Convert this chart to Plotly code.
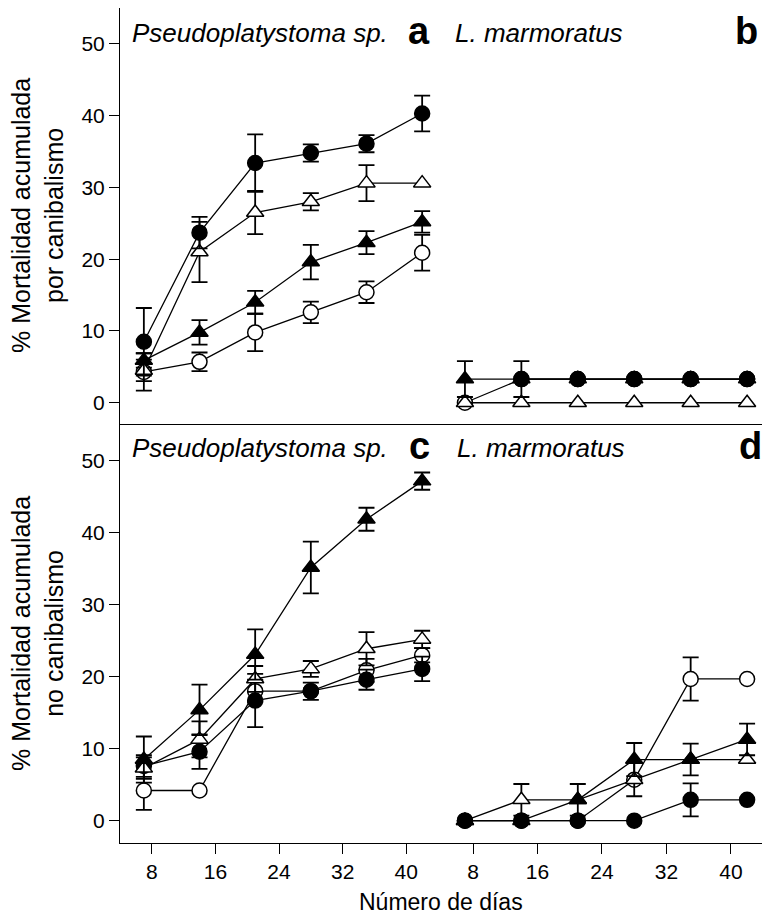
import plotly.graph_objects as go

W, H = 762, 922

days = [7, 14, 21, 28, 35, 42]
xticks = [8, 16, 24, 32, 40]
yticks = [0, 10, 20, 30, 40, 50]

# Panel a: Pseudoplatystoma sp., cannibalism mortality
a_fc = [8.5, 23.7, 33.4, 34.8, 36.1, 40.3]
a_fc_err = [4.7, 2.2, 4.0, 1.2, 1.2, 2.5]
a_ot = [4.5, 21.0, 26.5, 28.0, 30.6, 30.6]
a_ot_err = [1.5, 4.2, 3.0, 1.2, 2.5, 0]
a_ft = [5.9, 9.8, 14.0, 19.6, 22.3, 25.2]
a_ft_err = [1.0, 1.7, 1.6, 2.4, 1.6, 1.5]
a_oc = [4.3, 5.7, 9.8, 12.6, 15.4, 20.9]
a_oc_err = [2.6, 1.3, 2.6, 1.5, 1.5, 2.5]

# Panel b: L. marmoratus, cannibalism mortality
b_oc = [0, 3.3, 3.3, 3.3, 3.3, 3.3]
b_oc_err = [0, 0, 0, 0, 0, 0]
b_ot = [0, 0, 0, 0, 0, 0]
b_ot_err = [0, 0, 0, 0, 0, 0]
b_ft = [3.3, 3.3, 3.3, 3.3, 3.3, 3.3]
b_ft_err = [2.5, 0, 0, 0, 0, 0]
b_fc = [None, 3.3, 3.3, 3.3, 3.3, 3.3]
b_fc_err = [0, 2.5, 0, 0, 0, 0]

# Panel c: Pseudoplatystoma sp., non-cannibalism mortality
c_oc = [4.2, 4.2, 18.0, 18.0, 20.9, 23.0]
c_oc_err = [2.7, 0, 1.5, 0, 1.6, 1.0]
c_fc = [7.6, 9.6, 16.7, 18.0, 19.6, 21.1]
c_fc_err = [1.5, 2.4, 3.7, 1.2, 1.4, 1.7]
c_ot = [7.3, 11.3, 19.7, 21.1, 23.9, 25.2]
c_ot_err = [1.5, 2.5, 1.8, 1.1, 2.3, 1.2]
c_ft = [8.5, 15.4, 23.1, 35.2, 41.9, 47.2]
c_ft_err = [3.2, 3.5, 3.5, 3.6, 1.6, 1.2]

# Panel d: L. marmoratus, non-cannibalism mortality
d_oc = [0, 0, 0, 5.7, 19.7, 19.7]
d_oc_err = [0, 0, 0, 0, 3.0, 0]
d_ot = [0, 2.9, 2.9, 5.7, 8.5, 8.5]
d_ot_err = [0, 2.2, 0, 2.3, 0, 0]
d_fc = [0, 0, 0, 0, 2.9, 2.9]
d_fc_err = [0, 0, 0, 0, 2.3, 0]
d_ft = [0, 0, 2.9, 8.5, 8.5, 11.3]
d_ft_err = [0, 0, 2.2, 2.3, 2.2, 2.2]

FONT = "Liberation Sans, Arial, sans-serif"


def px(x):
    return x / W


def py(y):
    return 1 - y / H


STYLES = {
    "oc": dict(symbol="circle", color="white", size=15),
    "fc": dict(symbol="circle", color="black", size=15),
    "ot": dict(symbol="triangle-up", color="white", size=15),
    "ft": dict(symbol="triangle-up", color="black", size=15),
}

fig = go.Figure()


def add_series(kind, yvals, errs, xa, ya):
    st = STYLES[kind]
    sel = [(d, v, e) for d, v, e in zip(days, yvals, errs) if v is not None and e > 0]
    if sel:
        fig.add_trace(go.Scatter(
            x=[s[0] for s in sel], y=[s[1] for s in sel], mode="markers",
            xaxis=xa, yaxis=ya,
            marker=dict(size=1, opacity=0),
            error_y=dict(type="data", array=[s[2] for s in sel], visible=True,
                         color="black", thickness=1.8, width=8),
            showlegend=False, hoverinfo="skip"))
    fig.add_trace(go.Scatter(
        x=days, y=yvals, mode="lines+markers", xaxis=xa, yaxis=ya,
        line=dict(color="black", width=1.3),
        marker=dict(symbol=st["symbol"], size=st["size"], color=st["color"],
                    line=dict(color="black", width=1.5)),
        showlegend=False))


for kind, yv, er in [("oc", a_oc, a_oc_err), ("ft", a_ft, a_ft_err),
                     ("ot", a_ot, a_ot_err), ("fc", a_fc, a_fc_err)]:
    add_series(kind, yv, er, "x", "y")
for kind, yv, er in [("oc", b_oc, b_oc_err), ("ot", b_ot, b_ot_err),
                     ("ft", b_ft, b_ft_err), ("fc", b_fc, b_fc_err)]:
    add_series(kind, yv, er, "x2", "y2")
for kind, yv, er in [("oc", c_oc, c_oc_err), ("fc", c_fc, c_fc_err),
                     ("ot", c_ot, c_ot_err), ("ft", c_ft, c_ft_err)]:
    add_series(kind, yv, er, "x3", "y3")
for kind, yv, er in [("oc", d_oc, d_oc_err), ("fc", d_fc, d_fc_err),
                     ("ot", d_ot, d_ot_err), ("ft", d_ft, d_ft_err)]:
    add_series(kind, yv, er, "x4", "y4")

YR = [-3.1, 55.0]
XL = [4.0, 45.0]
XR = [4.65, 43.85]
left_dom = [px(120), px(446)]
right_dom = [px(446), 1.0]
top_dom = [py(425), py(8)]
bot_dom = [py(843), py(425)]

tickfont = dict(family=FONT, size=21, color="black")

hidden_x = dict(showline=False, showticklabels=False, ticks="", showgrid=False, zeroline=False)
hidden_y = dict(showline=False, showticklabels=False, ticks="", showgrid=False, zeroline=False)

yax_vis = dict(range=YR, showline=True, linecolor="black", linewidth=1,
               ticks="outside", ticklen=10, tickwidth=1, tickcolor="black",
               tickvals=yticks, tickfont=tickfont, showgrid=False, zeroline=False)
xax_vis = dict(showline=True, linecolor="black", linewidth=1, mirror=True,
               ticks="outside", ticklen=10, tickwidth=1, tickcolor="black",
               tickvals=xticks, tickfont=tickfont, showgrid=False, zeroline=False)

fig.update_layout(
    width=W, height=H,
    margin=dict(l=0, r=0, t=0, b=0),
    paper_bgcolor="white", plot_bgcolor="white",
    showlegend=False,
    xaxis=dict(domain=left_dom, range=XL, anchor="y", **hidden_x),
    yaxis=dict(domain=top_dom, anchor="x", **yax_vis),
    xaxis2=dict(domain=right_dom, range=XR, anchor="y2", **hidden_x),
    yaxis2=dict(domain=top_dom, range=YR, anchor="x2", **hidden_y),
    xaxis3=dict(domain=left_dom, range=XL, anchor="y3", **xax_vis),
    yaxis3=dict(domain=bot_dom, anchor="x3", **yax_vis),
    xaxis4=dict(domain=right_dom, range=XR, anchor="y4", **xax_vis),
    yaxis4=dict(domain=bot_dom, range=YR, anchor="x4", **hidden_y),
)

annots = []
species_font = dict(family=FONT, size=26, color="black", style="italic")
letter_font = dict(family=FONT, size=38, color="black", weight="bold")
for (sx, sy, stext, lx, ly, ltext) in [
        (130, 33, "Pseudoplatystoma sp.", 432, 31, "a"),
        (453, 33, "L. marmoratus", 760, 31, "b"),
        (130, 448, "Pseudoplatystoma sp.", 432, 446, "c"),
        (455, 448, "L. marmoratus", 764, 446, "d")]:
    annots.append(dict(x=px(sx), y=py(sy), xref="paper", yref="paper",
                       text=stext, showarrow=False, xanchor="left",
                       yanchor="middle", font=species_font))
    annots.append(dict(x=px(lx), y=py(ly), xref="paper", yref="paper",
                       text=ltext, showarrow=False, xanchor="right",
                       yanchor="middle", font=letter_font))

ytitle_font = dict(family=FONT, size=25, color="black")
annots.append(dict(x=px(37), y=py(216), xref="paper", yref="paper",
                   text="% Mortalidad acumulada<br>por canibalismo",
                   textangle=-90, showarrow=False, xanchor="center",
                   yanchor="middle", font=ytitle_font))
annots.append(dict(x=px(37), y=py(634), xref="paper", yref="paper",
                   text="% Mortalidad acumulada<br>no canibalismo",
                   textangle=-90, showarrow=False, xanchor="center",
                   yanchor="middle", font=ytitle_font))
annots.append(dict(x=px(441), y=py(902), xref="paper", yref="paper",
                   text="Número de días", showarrow=False, xanchor="center",
                   yanchor="middle", font=dict(family=FONT, size=23, color="black")))
fig.update_layout(annotations=annots)

fig.write_html("out.html")
